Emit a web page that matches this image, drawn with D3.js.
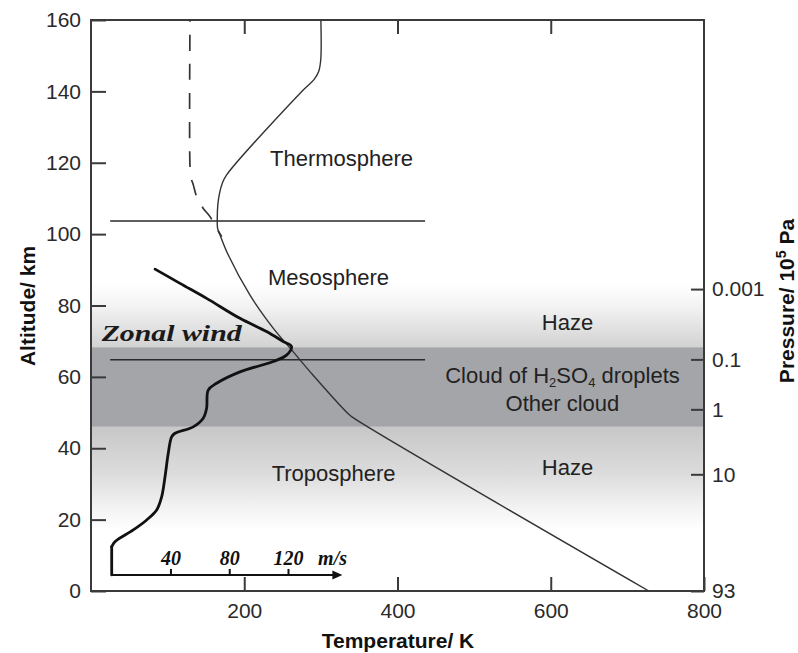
<!DOCTYPE html>
<html><head><meta charset="utf-8">
<script src="https://cdn.jsdelivr.net/npm/d3@7"></script>
<style>body{margin:0;background:#fff}</style>
</head><body>
<svg id="chart" width="798" height="653"></svg>
<script>
// ---------------- data ----------------
const tempK   = [300, 299.8, 297, 291, 277, 177, 171.5, 167.8, 165.5, 164.8, 165.2, 168.3, 179, 207.5, 238, 264, 286, 336, 344, 728];
const tempAlt = [160, 148.8, 145.5, 143.3, 140.4, 116.6, 114.3, 111.5, 108.2, 104.5, 101.6, 99.8, 94.2, 82.9, 73.6, 67, 61.4, 49.6, 48.3, 0];

const dashK   = [129.2, 129.2, 130.5, 133.5, 137.9, 146.5, 155.3, 164, 170.6];
const dashAlt = [160, 119, 115.8, 113.8, 110.5, 107.2, 104.9, 101.6, 99.3];

const windSpeed = [29.5, 46.5, 64.6, 87.3, 105.4, 116.7, 122.4, 119.0, 109.9, 87.3, 71.4, 65.7, 64.6, 62.3, 55.5, 43.1, 40.8, 38.5, 36.3, 34.0, 30.6, 23.8, 14.7, 2.2, 0, 0];
const windAlt   = [90.2, 86.2, 82.0, 76.4, 72.7, 69.9, 68.5, 66.1, 64.3, 61.4, 58.2, 56.3, 51.2, 48.4, 46.0, 44.2, 43.2, 38.6, 32.0, 26.4, 22.7, 19.9, 17.1, 13.8, 12.4, 4.5];

const windTicks = [40, 80, 120];
const windAxisAlt = 4.5;
const windAxisMax = 157;

const tempTicks = [200, 400, 600, 800];
const altTicks = [0, 20, 40, 60, 80, 100, 120, 140, 160];
const pressureLabels = ["0.001", "0.1", "1", "10", "93"];
const pressureAlt = [84.6, 64.9, 50.9, 32.7, 0];

const boundaryAlt = [103.7, 64.8];
const boundaryT = [25, 436];

const hazeTopAlt = 86, cloudTopAlt = 68.3, cloudBottomAlt = 46, hazeBottomAlt = 17;

// ---------------- scales ----------------
const svg = d3.select("#chart");
const x = d3.scaleLinear().domain([0, 800]).range([91, 704]);
const y = d3.scaleLinear().domain([0, 160]).range([591, 20]);
const w = d3.scaleLinear().domain([0, 120]).range([111.7, 288]);

const sans = "'Liberation Sans', Arial, Helvetica, sans-serif";
const serif = "'Liberation Serif', 'Times New Roman', serif";

// ---------------- shading ----------------
const defs = svg.append("defs");
const gUp = defs.append("linearGradient").attr("id", "gUp").attr("x1", 0).attr("y1", 0).attr("x2", 0).attr("y2", 1);
gUp.append("stop").attr("offset", "0%").attr("stop-color", "#ffffff");
gUp.append("stop").attr("offset", "35%").attr("stop-color", "#f3f3f3");
gUp.append("stop").attr("offset", "100%").attr("stop-color", "#d2d2d2");
const gDn = defs.append("linearGradient").attr("id", "gDn").attr("x1", 0).attr("y1", 0).attr("x2", 0).attr("y2", 1);
gDn.append("stop").attr("offset", "0%").attr("stop-color", "#c7c7c7");
gDn.append("stop").attr("offset", "45%").attr("stop-color", "#dcdcdc");
gDn.append("stop").attr("offset", "80%").attr("stop-color", "#f4f4f4");
gDn.append("stop").attr("offset", "100%").attr("stop-color", "#ffffff");

svg.append("rect").attr("x", x(0)).attr("width", x(800) - x(0))
  .attr("y", y(hazeTopAlt)).attr("height", y(cloudTopAlt) - y(hazeTopAlt)).attr("fill", "url(#gUp)");
svg.append("rect").attr("x", x(0)).attr("width", x(800) - x(0))
  .attr("y", y(cloudTopAlt)).attr("height", y(cloudBottomAlt) - y(cloudTopAlt)).attr("fill", "#a4a5a9");
svg.append("rect").attr("x", x(0)).attr("width", x(800) - x(0))
  .attr("y", y(cloudBottomAlt)).attr("height", y(hazeBottomAlt) - y(cloudBottomAlt)).attr("fill", "url(#gDn)");

// ---------------- axes ----------------
function styleAxis(g) {
  g.selectAll(".domain").remove();
  g.selectAll(".tick line").attr("stroke", "#3a3a3a").attr("stroke-width", 2);
  g.selectAll(".tick text").attr("font-family", sans).attr("font-size", 21).attr("fill", "#2a2a2a");
}
svg.append("g").attr("transform", `translate(${x(0)},0)`)
  .call(d3.axisLeft(y).tickValues(altTicks).tickSize(-15).tickPadding(10).tickFormat(d3.format("d")))
  .call(styleAxis);
svg.append("g").attr("transform", `translate(0,${y(0)})`)
  .call(d3.axisBottom(x).tickValues(tempTicks).tickSize(-14).tickPadding(12).tickFormat(d3.format("d")))
  .call(styleAxis);
svg.append("g").attr("transform", `translate(0,${y(160)})`)
  .call(d3.axisTop(x).tickValues(tempTicks.slice(0, 3)).tickSize(-14).tickFormat(""))
  .call(styleAxis);
svg.append("g").attr("transform", `translate(${x(800)},0)`)
  .call(d3.axisRight(y).tickValues(pressureAlt).tickSize(-13).tickPadding(8).tickFormat((d, i) => pressureLabels[i]))
  .call(styleAxis);

// frame
svg.append("rect").attr("x", x(0)).attr("y", y(160)).attr("width", x(800) - x(0)).attr("height", y(0) - y(160))
  .attr("fill", "none").attr("stroke", "#3a3a3a").attr("stroke-width", 2);

// boundaries
svg.selectAll(".bound").data(boundaryAlt).join("line").attr("class", "bound")
  .attr("x1", x(boundaryT[0])).attr("x2", x(boundaryT[1]))
  .attr("y1", d => y(d)).attr("y2", d => y(d))
  .attr("stroke", "#2a2a2a").attr("stroke-width", 1.5);

// ---------------- lines ----------------
const lineT = d3.line().x(d => x(d[0])).y(d => y(d[1])).curve(d3.curveCatmullRom.alpha(0.5));
svg.append("path").datum(tempK.map((t, i) => [t, tempAlt[i]]))
  .attr("d", lineT).attr("fill", "none").attr("stroke", "#333").attr("stroke-width", 1.4);
svg.append("path").datum(dashK.map((t, i) => [t, dashAlt[i]]))
  .attr("d", lineT).attr("fill", "none").attr("stroke", "#333").attr("stroke-width", 1.7)
  .attr("stroke-dasharray", "16,13").attr("stroke-dashoffset", 14);

// wind profile: smooth part plus straight vertical foot
const windPts = windSpeed.map((s, i) => [s, windAlt[i]]);
const lineW = d3.line().x(d => w(d[0])).y(d => y(d[1])).curve(d3.curveCatmullRom.alpha(0.5));
const lineWLin = d3.line().x(d => w(d[0])).y(d => y(d[1]));
svg.append("path").datum(windPts.slice(0, -1))
  .attr("d", lineW).attr("fill", "none").attr("stroke", "#111").attr("stroke-width", 2.8)
  .attr("stroke-linejoin", "round").attr("stroke-linecap", "round");
svg.append("path").datum(windPts.slice(-2))
  .attr("d", lineWLin).attr("fill", "none").attr("stroke", "#111").attr("stroke-width", 2.8)
  .attr("stroke-linecap", "round");

// wind axis with arrow
const wy = y(windAxisAlt);
svg.append("line").attr("x1", w(0)).attr("x2", w(windAxisMax) - 6).attr("y1", wy).attr("y2", wy)
  .attr("stroke", "#111").attr("stroke-width", 2);
svg.append("path")
  .attr("d", `M${w(windAxisMax)},${wy} L${w(windAxisMax) - 10},${wy - 4.5} L${w(windAxisMax) - 10},${wy + 4.5} Z`)
  .attr("fill", "#111");
const wAxis = svg.append("g").attr("transform", `translate(0,${wy})`)
  .call(d3.axisTop(w).tickValues(windTicks).tickSize(6).tickPadding(4));
wAxis.select(".domain").remove();
wAxis.selectAll(".tick line").attr("stroke", "#111").attr("stroke-width", 2);
wAxis.selectAll(".tick text").attr("font-family", serif).attr("font-size", 20)
  .attr("font-weight", "bold").attr("font-style", "italic").attr("fill", "#111");
svg.append("text").attr("x", w(140.5)).attr("y", wy - 10)
  .attr("font-family", serif).attr("font-size", 20).attr("font-weight", "bold").attr("font-style", "italic")
  .attr("fill", "#111").text("m/s");

// ---------------- labels ----------------
function label(t, a, str, anchor) {
  return svg.append("text").attr("x", x(t)).attr("y", y(a)).attr("text-anchor", anchor || "start")
    .attr("font-family", sans).attr("font-size", 22).attr("fill", "#222").text(str);
}
label(233.6, 119.1, "Thermosphere");
label(231, 85.7, "Mesosphere");
label(235.8, 30.8, "Troposphere");
label(621.9, 73.1, "Haze", "middle");
label(621.9, 32.5, "Haze", "middle");
label(615.3, 50.5, "Other cloud", "middle");
const cl = svg.append("text").attr("x", x(615.3)).attr("y", y(58.4)).attr("text-anchor", "middle")
  .attr("font-family", sans).attr("font-size", 22).attr("fill", "#222");
cl.append("tspan").text("Cloud of H");
cl.append("tspan").attr("font-size", 13).attr("dy", 4).text("2");
cl.append("tspan").attr("dy", -4).text("SO");
cl.append("tspan").attr("font-size", 13).attr("dy", 4).text("4");
cl.append("tspan").attr("dy", -4).text(" droplets");

svg.append("text").attr("x", x(13.9)).attr("y", y(70)).attr("font-family", serif).attr("font-size", 24)
  .attr("font-weight", "bold").attr("font-style", "italic").attr("fill", "#1a1a1a")
  .attr("textLength", 140).attr("lengthAdjust", "spacingAndGlyphs").text("Zonal wind");

// axis titles
svg.append("text").attr("x", 398).attr("y", 648).attr("text-anchor", "middle")
  .attr("font-family", sans).attr("font-size", 21).attr("font-weight", "bold").attr("fill", "#111")
  .text("Temperature/ K");
svg.append("text").attr("transform", "translate(35,306) rotate(-90)").attr("text-anchor", "middle")
  .attr("font-family", sans).attr("font-size", 21).attr("font-weight", "bold").attr("fill", "#111")
  .text("Altitude/ km");
const pt = svg.append("text").attr("transform", "translate(794,301) rotate(-90)").attr("text-anchor", "middle")
  .attr("font-family", sans).attr("font-size", 21).attr("font-weight", "bold").attr("fill", "#111");
pt.append("tspan").text("Pressure/ 10");
pt.append("tspan").attr("font-size", 14).attr("dy", -8).text("5");
pt.append("tspan").attr("dy", 8).text(" Pa");
</script>
</body></html>
